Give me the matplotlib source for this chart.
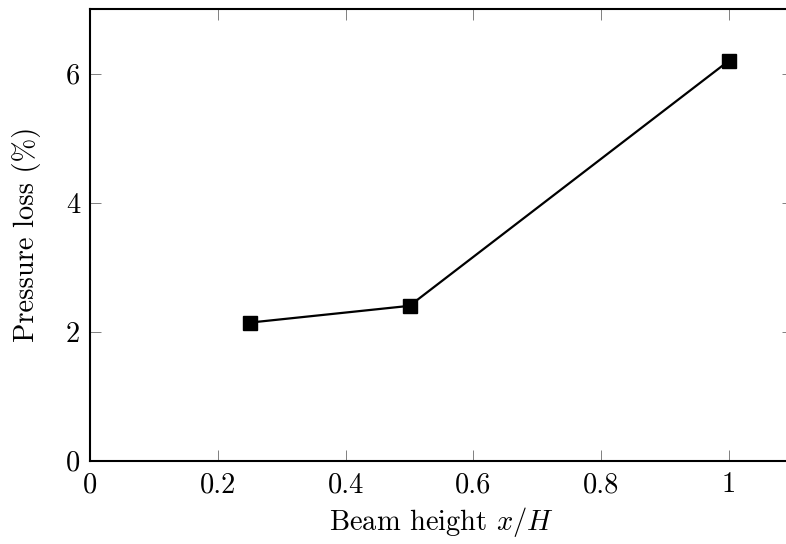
import matplotlib
matplotlib.use("Agg")
import matplotlib.pyplot as plt

# ----- Matplotlib settings -----
plt.rcParams["font.family"] = "cmr10"
plt.rcParams["mathtext.fontset"] = "cm"
plt.rcParams["axes.unicode_minus"] = False
plt.rcParams["axes.formatter.use_mathtext"] = True
plt.rcParams["font.size"] = 20.5

# ----- Data -----
beam_height = [0.25, 0.5, 1.0]
pressure_loss = [2.14, 2.40, 6.20]

x_ticks = [0, 0.2, 0.4, 0.6, 0.8, 1]
x_tick_labels = ["0", "0.2", "0.4", "0.6", "0.8", "1"]
y_ticks = [0, 2, 4, 6]
y_tick_labels = ["0", "2", "4", "6"]

# ----- Plot -----
fig = plt.figure(figsize=(7.86, 5.44), dpi=100)
ax = fig.add_axes([0.1145, 0.1531, 0.8944, 0.8304])

ax.plot(beam_height, pressure_loss, color="black", linewidth=1.6,
        marker="s", markersize=10, markerfacecolor="black",
        markeredgecolor="black", clip_on=False)

ax.set_xlim(0, 1.1)
ax.set_ylim(0, 7)
ax.set_xticks(x_ticks)
ax.set_xticklabels(x_tick_labels)
ax.set_yticks(y_ticks)
ax.set_yticklabels(y_tick_labels)

ax.tick_params(axis="x", which="major", pad=8)
ax.tick_params(axis="y", which="major", pad=7)
ax.tick_params(axis="both", which="major", direction="in", length=8,
               width=0.7, color="#808080", top=True, right=True)

for spine in ax.spines.values():
    spine.set_linewidth(1.5)
    spine.set_color("black")

ax.set_xlabel("Beam height $x/H$", labelpad=5)
ax.set_ylabel("Pressure loss (%)", labelpad=18)

fig.savefig("out.png", dpi=100)
